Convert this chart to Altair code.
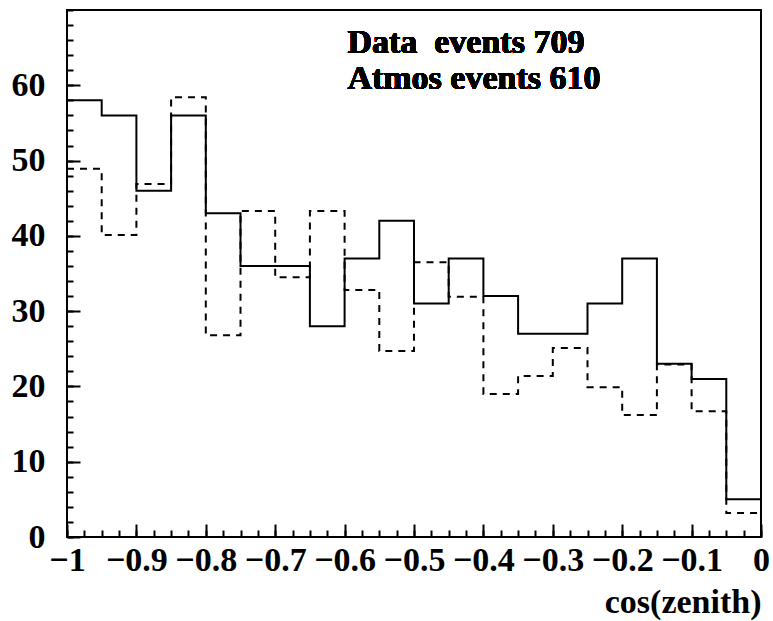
import altair as alt
import pandas as pd

# bin lower edges of cos(zenith) histogram (bin width 0.05)
bin_lo = [-1.0, -0.95, -0.9, -0.85, -0.8, -0.75, -0.7, -0.65, -0.6, -0.55,
          -0.5, -0.45, -0.4, -0.35, -0.3, -0.25, -0.2, -0.15, -0.1, -0.05]
x_end = 0.0
data_counts = [58, 56, 46, 56, 43, 36, 36, 28, 37, 42,
               31, 37, 32, 27, 27, 31, 37, 23, 21, 5]
atmos_counts = [48.9, 40.1, 46.9, 58.4, 26.8, 43.3, 34.5, 43.3, 32.8, 24.7,
                36.5, 31.9, 19.0, 21.4, 25.1, 19.9, 16.2, 22.9, 16.7, 3.2]

x_major = [-1.0, -0.9, -0.8, -0.7, -0.6, -0.5, -0.4, -0.3, -0.2, -0.1, 0.0]
x_minor = [round(-1 + 0.025 * i, 3) for i in range(41)]
y_major = [0, 10, 20, 30, 40, 50, 60]
y_minor = list(range(0, 71, 2))

annot_text = "Data\u00a0 events 709\nAtmos events 610"

W, H = 694, 527
FONT = "Liberation Serif"
FS = 34


def steps(edges, vals, end):
    return pd.DataFrame({"x": list(edges) + [end], "y": list(vals) + [vals[-1]]})


df_data = steps(bin_lo, data_counts, x_end)
df_atmos = steps(bin_lo, atmos_counts, x_end)

xscale = alt.Scale(domain=[-1, 0], nice=False, zero=False)
yscale = alt.Scale(domain=[0, 70], nice=False, zero=False)

label_axis_x = alt.Axis(orient="bottom", values=x_major, format="~g", ticks=False, domain=False,
                        grid=False, labelFont=FONT, labelFontWeight="bold", labelFontSize=FS,
                        labelColor="black", labelPadding=6, labelFlush=False, labelOverlap=False,
                        labelBound=False,
                        title="cos(zenith)", titleFont=FONT, titleFontWeight="bold",
                        titleFontSize=FS, titleColor="black", titleAnchor="end", titleAlign="right",
                        titleBaseline="alphabetic", titleX=W, titleY=75)
label_axis_y = alt.Axis(orient="left", values=y_major, format="d", ticks=False, domain=False,
                        grid=False, labelFont=FONT, labelFontWeight="bold", labelFontSize=FS,
                        labelColor="black", labelPadding=22, labelOverlap=False, labelBound=False,
                        labelFlush=False, title=None)


def tick_axis_x(vals, size):
    return alt.Axis(orient="top", offset=-H, values=vals, labels=False, domain=False, grid=False,
                    ticks=True, tickSize=size, tickWidth=2, tickColor="black", title=None)


def tick_axis_y(vals, size):
    return alt.Axis(orient="right", offset=-W, values=vals, labels=False, domain=False, grid=False,
                    ticks=True, tickSize=size, tickWidth=2, tickColor="black", title=None)


solid = alt.Chart(df_data).mark_line(interpolate="step-after", color="black", strokeWidth=2).encode(
    x=alt.X("x:Q", scale=xscale, axis=label_axis_x),
    y=alt.Y("y:Q", scale=yscale, axis=label_axis_y),
)

dashed = alt.Chart(df_atmos).mark_line(interpolate="step-after", color="black", strokeWidth=2,
                                       strokeDash=[7, 6]).encode(
    x=alt.X("x:Q", scale=xscale, axis=tick_axis_x(x_major, 13)),
    y=alt.Y("y:Q", scale=yscale, axis=tick_axis_y(y_major, 13)),
)

minor = alt.Chart(df_data).mark_line(interpolate="step-after", opacity=0).encode(
    x=alt.X("x:Q", scale=xscale, axis=tick_axis_x(x_minor, 7)),
    y=alt.Y("y:Q", scale=yscale, axis=tick_axis_y(y_minor, 6)),
)

annot = alt.Chart(df_data).mark_text(
    text=annot_text, lineBreak="\n", lineHeight=36, align="left", baseline="alphabetic",
    font=FONT, fontWeight="bold", fontSize=FS, color="black"
).encode(
    x=alt.datum(-0.596, type="quantitative", scale=xscale, axis=None),
    y=alt.datum(64.3, type="quantitative", scale=yscale, axis=None),
)

chart = alt.layer(solid, dashed, minor, annot).resolve_axis(
    x="independent", y="independent"
).properties(
    width=W, height=H,
    autosize=alt.AutoSizeParams(type="none"),
    padding={"left": 67, "top": 10, "right": 12, "bottom": 84},
    background="white",
).configure_view(stroke="black", strokeWidth=2).configure_text(font=FONT, fontWeight="bold")

chart.save("out.html", embed_options={"renderer": "svg", "actions": False})
